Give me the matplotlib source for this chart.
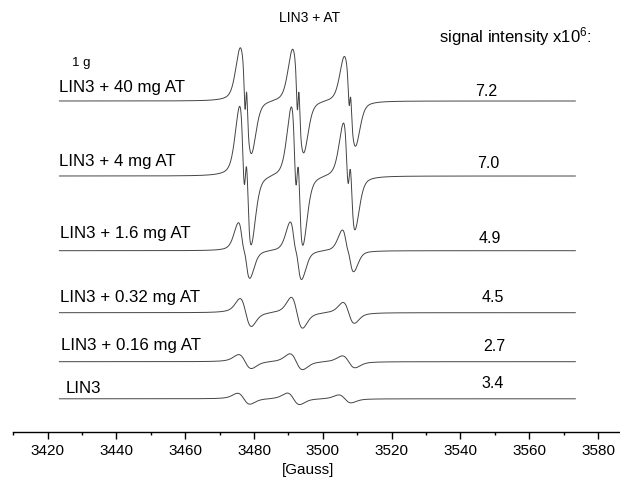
import numpy as np
import matplotlib
matplotlib.use("Agg")
import matplotlib.pyplot as plt
from matplotlib.ticker import MultipleLocator

plt.rcParams['font.family'] = ['Liberation Sans', 'DejaVu Sans']
plt.rcParams['mathtext.fontset'] = 'custom'
plt.rcParams['mathtext.rm'] = 'Liberation Sans'
plt.rcParams['mathtext.it'] = 'Liberation Sans:italic'

# ---------------- data ----------------
sample_labels = ["LIN3 + 40 mg AT", "LIN3 + 4 mg AT", "LIN3 + 1.6 mg AT",
                 "LIN3 + 0.32 mg AT", "LIN3 + 0.16 mg AT", "LIN3"]
signal_intensity = ["7.2", "7.0", "4.9", "4.5", "2.7", "3.4"]

field_start, field_end = 3423.4, 3573.4          # sweep range [Gauss]

# centres of the three hyperfine lines [Gauss]
line_centres = [
    [3477.6, 3492.8, 3507.85],
    [3477.47, 3492.5, 3507.65],
    [3477.1, 3492.15, 3507.3],
    [3477.56, 3492.45, 3507.5],
    [3477.37, 3492.25, 3507.5],
    [3477.0, 3491.45, 3506.4],
]
# broad component: half peak-to-peak width [G], peak amplitudes
broad_width = [1.6, 1.6, 1.6, 1.65, 1.85, 1.79]
broad_amp = [
    [53, 52, 45],
    [70, 70, 54],
    [28, 29, 21],
    [14, 15.5, 10.5],
    [7, 8, 6],
    [5.5, 5.8, 4.0],
]
# Lorentzian fraction of the broad line
lorentz_frac = [0.3, 0.3, 0.3, 0.5, 0.5, 0.5]
# narrow (notch) component: half pp width [G], amplitudes
narrow_width = [0.29, 0.48, 0.5, 0.5, 0.5, 0.5]
narrow_amp = [
    [22, 22, 15],
    [36, 36, 28],
    [5, 5, 3],
    [0, 0, 0],
    [0, 0, 0],
    [0, 0, 0],
]

# ---------------- layout ----------------
W, H = 620, 482
baseline_px = [101, 176, 250.7, 312.7, 361.7, 398.8]
label_pos = [(59.3, 92.3), (59.3, 166), (60.4, 238.3), (60.4, 301.7), (61.0, 350), (65.6, 393.3)]
value_pos = [(486, 96.5), (488, 168), (490, 243), (493, 301.7), (494, 350.7), (493, 388.3)]


def dgauss(u):
    return -u * np.exp((1 - u * u) / 2.0)


def dlor(u):
    return -u * (16.0 / 9.0) / (1 + u * u / 3.0) ** 2


def line(B, c, d, eta):
    u = (B - c) / d
    return eta * dlor(u) + (1 - eta) * dgauss(u)


fig = plt.figure(figsize=(W / 100, H / 100), dpi=100)
axL = 13.3 / W
axB = (H - 432) / H
ax = fig.add_axes([axL, axB, 1 - axL, 432 / H])
ax.set_xlim(3410, 3410 + (W - 13.3) / 3.44)
ax.set_ylim(432, 0)

B = np.arange(field_start, field_end, 0.02)
for i in range(len(sample_labels)):
    sig = np.zeros_like(B)
    for k in range(3):
        c = line_centres[i][k]
        sig += broad_amp[i][k] * line(B, c, broad_width[i], lorentz_frac[i])
        sig -= narrow_amp[i][k] * line(B, c, narrow_width[i], 0.0)
    ax.plot(B, baseline_px[i] - sig, color='#444444', lw=0.7)

for s in ['left', 'right', 'top']:
    ax.spines[s].set_visible(False)
ax.spines['bottom'].set_linewidth(1.0)
ax.yaxis.set_visible(False)
ax.xaxis.set_major_locator(MultipleLocator(20))
ax.xaxis.set_minor_locator(MultipleLocator(10))
ax.tick_params(axis='x', which='major', length=5, width=1, direction='out', pad=3.5, labelsize=11)
ax.tick_params(axis='x', which='minor', length=2.5, width=1, direction='out')


def ftext(x, y, s, **kw):
    fig.text(x / W, 1 - y / H, s, **kw)


for i, lab in enumerate(sample_labels):
    x, y = label_pos[i]
    ftext(x, y, lab, fontsize=12.2, ha='left', va='baseline')
    x, y = value_pos[i]
    ftext(x, y, signal_intensity[i], fontsize=11.5, ha='center', va='baseline')

ftext(309.7, 22, "LIN3 + AT", fontsize=10, ha='center', va='baseline')
ftext(439, 42, r"signal intensity x10$^6$:", fontsize=12, ha='left', va='baseline')
ftext(71.5, 66, "1 g", fontsize=9.5, ha='left', va='baseline')
ftext(307.6, 470, "[Gauss]", fontsize=11, ha='center', va='center')

fig.savefig("out.png", dpi=100)
